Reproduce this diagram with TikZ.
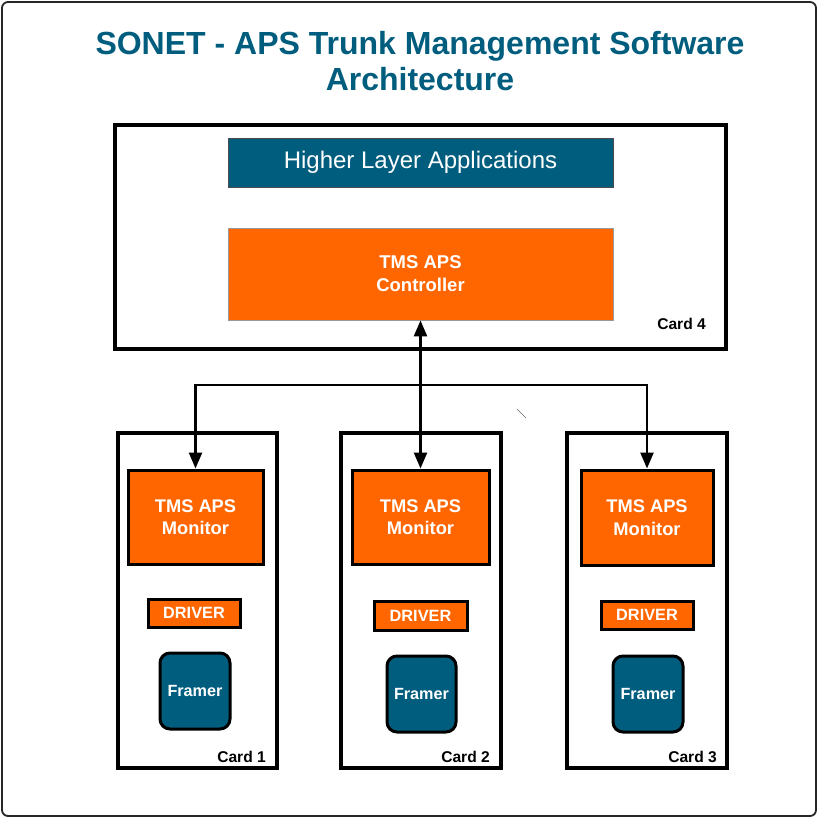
\documentclass[tikz,border=0pt]{standalone}
\usepackage{fontspec}
\setmainfont{Liberation Sans}
\usetikzlibrary{arrows.meta}
\definecolor{tealc}{RGB}{0,93,125}
\definecolor{orng}{RGB}{255,102,0}
\tikzset{
  cardbox/.style={draw=black, line width=3.2pt, fill=white, inner sep=0pt},
  monbox/.style={draw=black, line width=3pt, fill=orng, text=white, align=center,
    font=\bfseries\fontsize{18.3}{22.5}\selectfont, inner sep=0pt},
  drvbox/.style={draw=black, line width=3pt, fill=orng, text=white,
    font=\bfseries\fontsize{16.3}{18}\selectfont, inner sep=0pt},
  frmbox/.style={draw=black, line width=3pt, fill=tealc, text=white, rounded corners=10pt,
    font=\bfseries\fontsize{16.2}{18}\selectfont, inner sep=0pt},
  cardlabel/.style={anchor=base east, font=\bfseries\fontsize{15.6}{18}\selectfont, inner sep=0pt},
  titletext/.style={anchor=base, text=tealc, font=\bfseries\fontsize{32}{36}\selectfont, inner sep=0pt},
  tip/.style={Triangle[length=16pt,width=13pt]},
  link/.style={line width=2.5pt, -{Triangle[length=16pt,width=13pt]}},
}
\begin{document}
\begin{tikzpicture}[x=1pt,y=-1pt]
\useasboundingbox (0,0) rectangle (819,819);
\draw[line width=1.8pt, draw=black!85, rounded corners=6pt] (2,2) rectangle (816,816);

\node[titletext] (t1) at (420,54) {SONET - APS Trunk Management Software};
\node[titletext] (t2) at (420,90) {Architecture};

% Card 4
\node[cardbox, minimum width=611pt, minimum height=224pt] (c4) at (420.5,237) {};
\node[draw=black!70, line width=0.8pt, fill=tealc, text=white, minimum width=385pt, minimum height=49pt,
  inner sep=0pt, font=\fontsize{24}{28}\selectfont] (hla) at (420.5,162.5) {Higher Layer Applications};
\node[draw=black!40, line width=0.8pt, fill=orng, text=white, minimum width=385pt, minimum height=92pt,
  inner sep=0pt, align=center, font=\bfseries\fontsize{18.5}{23}\selectfont] (ctrl) at (420.5,274) {TMS APS\\Controller};
\node[cardlabel] (l4) at (706,329) {Card 4};

% Cards 1-3
\node[cardbox, minimum width=159pt, minimum height=335pt] (c1) at (197.5,600.5) {};
\node[cardbox, minimum width=160pt, minimum height=335pt] (c2) at (421,600.5) {};
\node[cardbox, minimum width=160pt, minimum height=335pt] (c3) at (647,600.5) {};

\node[monbox, minimum width=135pt, minimum height=94pt] (m1) at (195.5,517) {TMS APS\\Monitor};
\node[monbox, minimum width=137pt, minimum height=94pt] (m2) at (420.5,517) {TMS APS\\Monitor};
\node[monbox, minimum width=132pt, minimum height=95pt] (m3) at (647,517.5) {TMS APS\\Monitor};

\node[drvbox, minimum width=92pt, minimum height=28pt] (d1) at (194,613) {DRIVER};
\node[drvbox, minimum width=93pt, minimum height=29pt] (d2) at (420.5,615.5) {DRIVER};
\node[drvbox, minimum width=92pt, minimum height=28pt] (d3) at (647,615) {DRIVER};

\node[frmbox, minimum width=70pt, minimum height=76pt] (f1) at (195,691) {Framer};
\node[frmbox, minimum width=69pt, minimum height=76pt] (f2) at (421.5,694) {Framer};
\node[frmbox, minimum width=70pt, minimum height=76pt] (f3) at (648,694) {Framer};

\node[cardlabel] (l1) at (266,762) {Card 1};
\node[cardlabel] (l2) at (490,762) {Card 2};
\node[cardlabel] (l3) at (717,762) {Card 3};

% Connectors
\coordinate (J) at (420.5,385);
\draw[line width=2.5pt, {Triangle[length=16pt,width=13pt]}-{Triangle[length=16pt,width=13pt]}] (ctrl.south) -- (m2.north);
\draw[link] (J) -| (m1.north);
\draw[link] (J) -| (m3.north);

% stray mark
\draw[line width=0.7pt, black!60] (517,409) -- (526,418);
\end{tikzpicture}
\end{document}
